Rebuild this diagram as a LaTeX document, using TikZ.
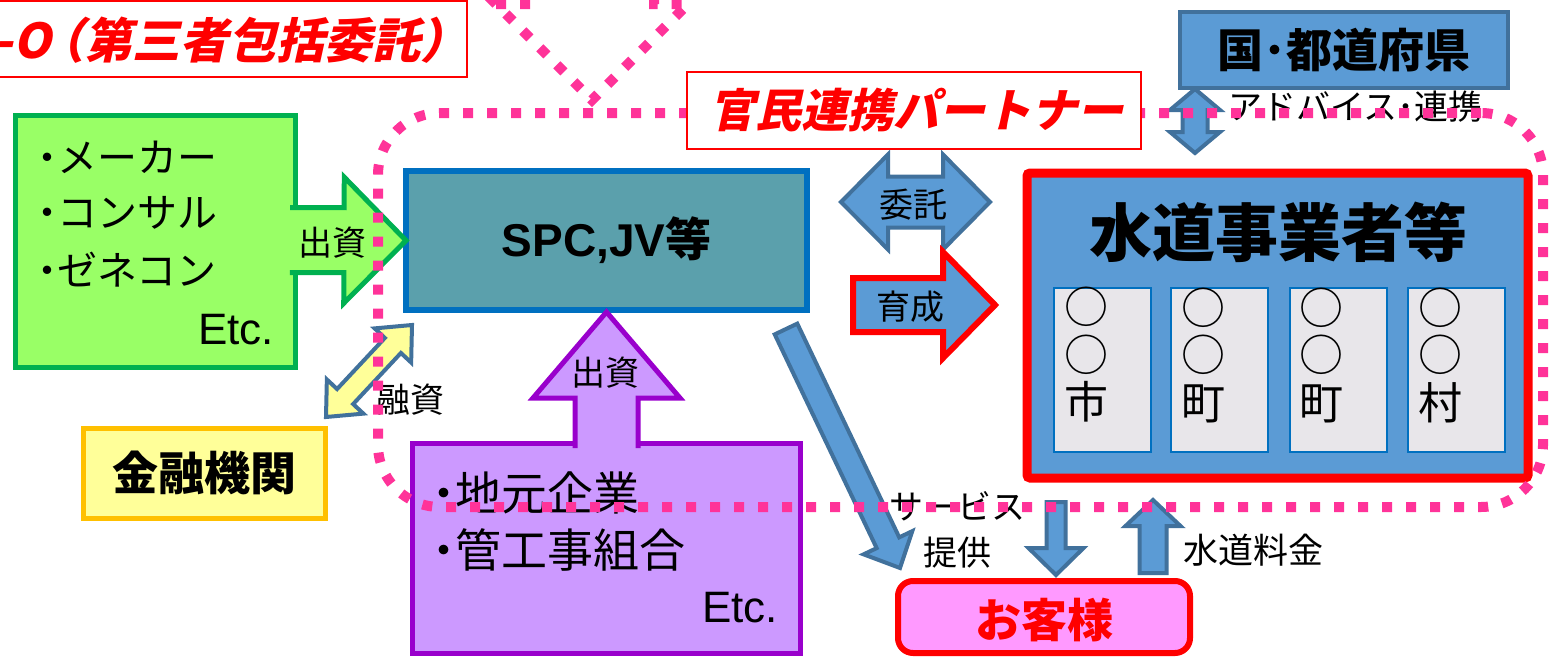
\documentclass[tikz,border=0pt]{standalone}
\usepackage{fontspec}
\usetikzlibrary{calc}
\newfontfamily\jp{Noto Sans CJK JP}
\newfontfamily\jpi{Noto Sans CJK JP}[FakeSlant=0.22]
\newfontfamily\ar{Liberation Sans}
\definecolor{pinkdot}{HTML}{FF3399}
\definecolor{bluefill}{HTML}{5B9BD5}
\definecolor{blueline}{HTML}{41719C}
\definecolor{tealfill}{HTML}{5BA0AC}
\definecolor{spcline}{HTML}{0070C0}
\definecolor{greenfill}{HTML}{99FF66}
\definecolor{greenline}{HTML}{00B050}
\definecolor{purplefill}{HTML}{CC99FF}
\definecolor{purpleline}{HTML}{9900CC}
\definecolor{yellowfill}{HTML}{FFFF99}
\definecolor{yellowline}{HTML}{FFC000}
\definecolor{grayfill}{HTML}{E8E6EA}
\definecolor{pinkfill}{HTML}{FF99FF}
\newcommand\fs[2][]{\fontsize{#2}{#2}\selectfont}
\newcommand\bul{{\bfseries ･}}
% single block arrow: #1 style, #2 start, #3 tip, #4 shaft half width, #5 head half width, #6 head length
\newcommand\blockarrow[6]{%
  \coordinate (ba-h) at ($(#3)!#6!(#2)$);
  \path[#1] ($(#2)!#4!90:(#3)$) -- ($(ba-h)!#4!90:(#3)$) -- ($(ba-h)!#5!90:(#3)$) -- (#3)
     -- ($(ba-h)!#5!-90:(#3)$) -- ($(ba-h)!#4!-90:(#3)$) -- ($(#2)!#4!-90:(#3)$) -- cycle;}
% block arrow growing out of a box: #1 fill colour, #2 line style, #3 start, #4 tip, #5 w, #6 h, #7 L
\newcommand\openarrow[7]{%
  \coordinate (ba-h) at ($(#4)!#7!(#3)$);
  \fill[#1] ($(#3)!#5!90:(#4)$) -- ($(ba-h)!#5!90:(#4)$) -- ($(ba-h)!#6!90:(#4)$) -- (#4)
     -- ($(ba-h)!#6!-90:(#4)$) -- ($(ba-h)!#5!-90:(#4)$) -- ($(#3)!#5!-90:(#4)$) -- cycle;
  \draw[#2] ($(#3)!#5!90:(#4)$) -- ($(ba-h)!#5!90:(#4)$) -- ($(ba-h)!#6!90:(#4)$) -- (#4)
     -- ($(ba-h)!#6!-90:(#4)$) -- ($(ba-h)!#5!-90:(#4)$) -- ($(#3)!#5!-90:(#4)$);}
% double block arrow
\newcommand\dblarrow[6]{%
  \coordinate (ba-p) at ($(#3)!#6!(#2)$);
  \coordinate (ba-q) at ($(#2)!#6!(#3)$);
  \path[#1] (#2) -- ($(ba-q)!#5!90:(#3)$) -- ($(ba-q)!#4!90:(#3)$) -- ($(ba-p)!#4!90:(#3)$)
     -- ($(ba-p)!#5!90:(#3)$) -- (#3) -- ($(ba-p)!#5!-90:(#3)$) -- ($(ba-p)!#4!-90:(#3)$)
     -- ($(ba-q)!#4!-90:(#3)$) -- ($(ba-q)!#5!-90:(#3)$) -- cycle;}
\begin{document}
\begin{tikzpicture}[x=1pt,y=-1pt,
  lbl/.style={inner sep=0, font=\jp\fs{34}},
  item/.style={inner sep=0, font=\jp\fs{40}, anchor=west},
  etc/.style={inner sep=0, font=\ar\fs{44}, anchor=east},
  bluearrow/.style={fill=bluefill, draw=blueline, line width=4pt},
  pinkdots/.style={draw=pinkdot, line width=10pt, dash pattern=on 10pt off 14pt},
  plain/.style={inner sep=0, outer sep=0}]
\useasboundingbox (0,0) rectangle (1550,656);
\clip (0,0) rectangle (1550,656);

% title box
\node[plain, draw=red, line width=2pt, fill=white, minimum width=500pt, minimum height=76pt, anchor=north east] (modebox) at (467,1) {};
\node[plain, text=red, font=\jpi\bfseries\fs{48}, anchor=east] (modetxt) at (468,40) {-O\kern-15pt（第三者包括委託）};

% dotted down arrow at top
\draw[pinkdots] (530,-20) -- (530,4) -- (496,4) -- (592,100) -- (688,4) -- (654,4) -- (654,-20);

% green box
\node[plain, draw=greenline, fill=greenfill, line width=5pt, minimum width=280pt, minimum height=252pt] (mfr) at (155,241) {};
\node[plain, draw=spcline, fill=tealfill, line width=6pt, minimum width=401pt, minimum height=139pt] (spc) at (606.5,240.5)
  {{\ar\bfseries\fs{46}SPC,JV}{\jp\bfseries\fs{46}等}};
\coordinate (ga) at (290,240);
\coordinate (gb) at (spc.west);
\openarrow{greenfill}{draw=greenline, line width=5pt}{ga}{gb}{32.5pt}{63pt}{62pt}
\node[item] (mfr1) at (37,157) {\bul メーカー};
\node[item] (mfr2) at (37,213) {\bul コンサル};
\node[item] (mfr3) at (37,270) {\bul ゼネコン};
\node[etc] (mfr4) at (274,330) {Etc.};
\node[lbl] (inv1) at (332,243) {出資};

% bank
\node[plain, draw=yellowline, fill=yellowfill, line width=5pt, minimum width=242pt, minimum height=90pt, font=\jp\bfseries\fs{46}] (bank) at (204,473) {金融機関};
\coordinate (ya) at (412,325);
\coordinate (yb) at (326,417);
\dblarrow{fill=yellowfill, draw=blueline, line width=4pt}{ya}{yb}{11pt}{25pt}{28pt}
\node[lbl] (loan) at (410,400) {融資};

% purple box
\node[plain, draw=purpleline, fill=purplefill, line width=5pt, minimum width=388pt, minimum height=210pt] (local) at (606,548) {};
\coordinate (pa) at (606.5,448);
\coordinate (pb) at (606.5,312);
\openarrow{purplefill}{draw=purpleline, line width=5pt}{pa}{pb}{31.5pt}{73.5pt}{86pt}
\node[item, font=\jp\fs{46}] (loc1) at (432,493) {\bul 地元企業};
\node[item, font=\jp\fs{46}] (loc2) at (432,550) {\bul 管工事組合};
\node[etc] (loc3) at (778,608) {Etc.};
\node[lbl] (inv2) at (605,373) {出資};

% commission / training arrows
\coordinate (ia) at (841,202);
\coordinate (ib) at (990,202);
\dblarrow{bluearrow}{ia}{ib}{25.5pt}{47.5pt}{47pt}
\node[lbl] (comm) at (913,205) {委託};
\coordinate (ka1) at (853,305);
\coordinate (kb1) at (995,305);
\blockarrow{fill=bluefill, draw=red, line width=6pt}{ka1}{kb1}{27pt}{53pt}{52pt}
\node[lbl] (train) at (910,307) {育成};

% government
\node[plain, draw=blueline, fill=bluefill, line width=4pt, minimum width=328pt, minimum height=76pt, font=\jp\bfseries\fs{46}] (gov) at (1344,50) {国･都道府県};
\coordinate (ka) at (1195,89);
\coordinate (kb) at (1195,153);
\dblarrow{bluearrow}{ka}{kb}{12.5pt}{25pt}{21pt}
\node[lbl, anchor=west] (advice) at (1228,107) {アドバイス･連携};

% utilities
\node[plain, draw=red, fill=bluefill, line width=9pt, rounded corners=3pt, minimum width=501pt, minimum height=305pt] (util) at (1277.5,325.5) {};
\node[plain, font=\jp\bfseries\fs{63}] (utiltitle) at (1278,232) {水道事業者等};
\foreach \i/\x/\t in {1/1102.5/市, 2/1219.5/町, 3/1338/町, 4/1456.5/村} {
  \node[plain, draw=spcline, fill=grayfill, line width=2pt, minimum width=97pt, minimum height=164pt] (m\i) at (\x,370) {};
  \node[plain, align=center, font=\jp\fontsize{44}{47.5}\selectfont] (m\i t) at ($(m\i.west)+(32,-15)$) {○\\○\\\t};
}

% service arrows
\coordinate (da) at (786,329);
\coordinate (db) at (900,568);
\blockarrow{bluearrow}{da}{db}{12.5pt}{27pt}{28pt}
\coordinate (sa) at (1056,502);
\coordinate (sb) at (1056,575);
\blockarrow{bluearrow}{sa}{sb}{9.5pt}{27.5pt}{27pt}
\coordinate (fa) at (1153,573);
\coordinate (fb) at (1153,500);
\blockarrow{bluearrow}{fa}{fb}{13.5pt}{27.5pt}{26pt}
\node[lbl, align=center, font=\jp\fontsize{34}{46}\selectfont] (svc) at (957,530) {サービス\\提供};
\node[lbl, anchor=west, font=\jp\fs{35}] (fee) at (1183,550) {水道料金};

% customer
\node[plain, draw=red, fill=pinkfill, line width=6pt, rounded corners=15pt, minimum width=292pt, minimum height=72pt] (cust) at (1044,617) {};
\node[plain, text=red, font=\jp\bfseries\fs{46}] (custtxt) at (1044,620) {お客様};

% public-private partnership dotted frame
\node[plain, pinkdots, rounded corners=62pt, minimum width=1165pt, minimum height=394pt] (ppp) at (960.5,310) {};
\node[plain, draw=red, line width=2pt, fill=white, minimum width=454pt, minimum height=77pt] (ppbox) at (914,110.5) {};
\node[plain, text=red, font=\jpi\bfseries\fs{46}] (pptxt) at (916,110) {官民連携パートナー};
\end{tikzpicture}
\end{document}
